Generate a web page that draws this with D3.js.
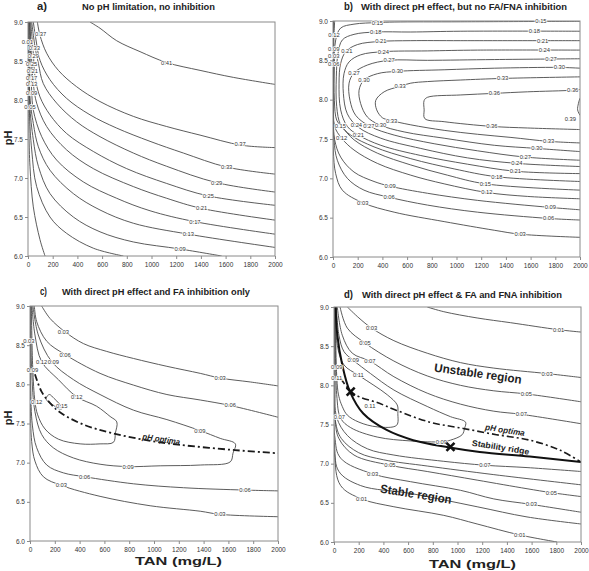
<!DOCTYPE html>
<html><head><meta charset="utf-8">
<script src="https://cdn.jsdelivr.net/npm/d3@7"></script>
<style>body{margin:0;background:#fff}svg{display:block}</style>
</head><body>
<svg id="chart" width="589" height="571"></svg>
<script>
// ---------- DATA ----------
const xTicks = [0,200,400,600,800,1000,1200,1400,1600,1800,2000];
const yTicks = [6.0,6.5,7.0,7.5,8.0,8.5,9.0];

const titleA = "No pH limitation, no inhibition";
const titleB = "With direct pH effect, but no FA/FNA inhibition";
const titleC = "With direct pH effect and FA inhibition only";
const titleD = "With direct pH effect & FA and FNA inhibition";

// contour lines: [TAN (mg/L), pH]
const contoursA = [
 {level:0.41, pts:[[502,9.0],[583,8.92],[718,8.76],[907,8.62],[1123,8.48],[1393,8.38],[1663,8.29],[2000,8.20]]},
 {level:0.37, pts:[[76,9.0],[97,8.83],[151,8.60],[246,8.38],[394,8.17],[583,7.98],[853,7.79],[1123,7.66],[1393,7.55],[1730,7.42],[2000,7.39]]},
 {level:0.33, pts:[[43,9.0],[65,8.77],[97,8.51],[178,8.26],[313,8.02],[502,7.81],[718,7.64],[988,7.47],[1258,7.32],[1609,7.14],[2000,7.05]]},
 {level:0.29, pts:[[30,9.0],[57,8.68],[84,8.47],[124,8.21],[232,7.96],[394,7.72],[583,7.53],[853,7.32],[1123,7.15],[1528,6.94],[2000,6.82]]},
 {level:0.25, pts:[[22,9.0],[43,8.60],[57,8.30],[97,8.04],[178,7.81],[313,7.57],[529,7.34],[799,7.12],[1123,6.93],[1460,6.77],[2000,6.65]]},
 {level:0.21, pts:[[16,9.0],[30,8.51],[43,8.21],[70,7.96],[151,7.66],[313,7.36],[529,7.12],[853,6.89],[1123,6.74],[1406,6.61],[2000,6.46]]},
 {level:0.17, pts:[[13.5,9.0],[24,8.43],[30,8.11],[43,7.87],[111,7.53],[232,7.23],[448,6.95],[718,6.74],[988,6.58],[1352,6.44],[2000,6.28]]},
 {level:0.13, pts:[[10.8,9.0],[16,8.04],[43,7.70],[84,7.40],[178,7.10],[367,6.80],[583,6.59],[853,6.42],[1298,6.28],[2000,6.11]]},
 {level:0.09, pts:[[8,9.0],[13.5,7.96],[43,7.49],[84,7.15],[178,6.80],[367,6.50],[583,6.31],[853,6.18],[1231,6.09],[1568,6.0]]},
 {level:0.05, pts:[[5.4,9.0],[10.8,7.87],[30,7.36],[70,6.89],[178,6.50],[313,6.29],[529,6.10],[772,6.0]]},
 {level:0.01, pts:[[4,9.0],[8,7.57],[16,7.15],[43,6.63],[97,6.21],[138,6.0]]}
];
const labelsA = [["0.41",1123,8.48],["0.37",1717,7.43],["0.37",102,8.85],["0.33",1609,7.14],["0.33",51,8.67],
 ["0.29",1528,6.94],["0.29",43,8.56],["0.25",1460,6.77],["0.25",30,8.46],["0.21",1406,6.61],["0.21",35,8.37],
 ["0.17",1352,6.44],["0.17",30,8.28],["0.13",1298,6.28],["0.13",30,8.20],["0.09",1231,6.09],["0.09",30,8.09],
 ["0.05",16,7.91],["0.01",-5,8.74]];

const contoursB = [
 {level:0.39, pts:[[2000,8.02],[1987,7.95],[1981,7.87],[2000,7.80]]},
 {level:0.36, pts:[[2000,8.13],[1941,8.12],[1576,8.10],[1306,8.08],[1035,8.06],[765,8.03],[738,7.99],[738,7.87],[743,7.76],[900,7.72],[1287,7.66],[1576,7.64],[2000,7.62]]},
 {level:0.33, pts:[[2000,8.29],[1373,8.27],[1035,8.25],[765,8.23],[630,8.21],[543,8.17],[414,8.10],[346,7.99],[354,7.87],[400,7.77],[457,7.74],[630,7.68],[900,7.61],[1170,7.56],[1441,7.52],[1746,7.47],[2000,7.45]]},
 {level:0.30, pts:[[2000,8.40],[1833,8.41],[1306,8.40],[900,8.38],[522,8.36],[359,8.33],[251,8.25],[211,8.12],[224,7.95],[278,7.78],[376,7.68],[576,7.59],[900,7.51],[1306,7.42],[1651,7.38],[2000,7.34]]},
 {level:0.27, pts:[[2000,8.52],[1306,8.51],[765,8.50],[454,8.50],[278,8.44],[170,8.34],[130,8.21],[138,7.99],[184,7.80],[300,7.66],[495,7.55],[819,7.44],[1170,7.35],[1557,7.27],[2000,7.23]]},
 {level:0.24, pts:[[2000,8.63],[1170,8.63],[765,8.62],[408,8.61],[224,8.57],[130,8.48],[89,8.33],[84,8.08],[116,7.82],[205,7.65],[387,7.51],[711,7.38],[1089,7.26],[1489,7.19],[2000,7.15]]},
 {level:0.21, pts:[[2000,8.75],[1035,8.75],[630,8.75],[381,8.74],[197,8.70],[103,8.61],[62,8.46],[49,8.21],[62,7.87],[116,7.66],[205,7.55],[387,7.42],[711,7.29],[1089,7.18],[1476,7.09],[2000,7.06]]},
 {level:0.18, pts:[[2000,8.87],[1035,8.87],[630,8.86],[346,8.86],[170,8.83],[76,8.76],[41,8.59],[27,8.29],[30,7.91],[62,7.68],[143,7.55],[332,7.40],[630,7.25],[981,7.12],[1327,7.02],[2000,6.96]]},
 {level:0.15, pts:[[2000,8.996],[1035,8.99],[495,8.987],[359,8.98],[170,8.96],[62,8.91],[22,8.76],[11,8.42],[11,7.99],[30,7.74],[70,7.66],[170,7.49],[359,7.32],[630,7.17],[927,7.04],[1233,6.93],[2000,6.85]]},
 {level:0.12, pts:[[13.5,9.0],[8,8.82],[5.4,8.42],[5.4,7.99],[13.5,7.66],[70,7.51],[170,7.36],[359,7.19],[630,7.04],[900,6.93],[1246,6.82],[1576,6.77],[2000,6.74]]},
 {level:0.09, pts:[[5.4,9.0],[2.7,8.42],[2.7,7.78],[13.5,7.49],[62,7.27],[170,7.08],[332,6.96],[462,6.90],[765,6.81],[1170,6.72],[1760,6.63],[2000,6.60]]},
 {level:0.06, pts:[[4,9.0],[2.7,7.99],[8,7.49],[35,7.23],[116,7.00],[251,6.85],[454,6.76],[765,6.66],[1170,6.57],[1746,6.49],[2000,6.47]]},
 {level:0.03, pts:[[2.7,9.0],[1.4,7.78],[2.7,7.36],[21.6,7.06],[75.7,6.85],[241,6.69],[495,6.57],[900,6.45],[1306,6.34],[1516,6.29],[2000,6.25]]}
];
const labelsB = [["0.15",359,8.98],["0.15",1684,8.995],["0.18",346,8.86],["0.18",1630,8.87],["0.21",387,8.74],["0.21",1697,8.75],
 ["0.24",408,8.61],["0.24",1711,8.63],["0.27",454,8.50],["0.27",1765,8.52],["0.30",522,8.36],["0.30",1833,8.41],
 ["0.33",1373,8.27],["0.33",543,8.17],["0.36",1306,8.08],["0.36",1941,8.12],["0.39",1922,7.75],["0.36",1287,7.66],
 ["0.33",1746,7.47],["0.30",1651,7.38],["0.27",1557,7.27],["0.24",1489,7.19],["0.21",1476,7.09],["0.18",1327,7.02],
 ["0.15",1233,6.93],["0.12",1246,6.82],["0.09",1760,6.63],["0.06",1746,6.49],["0.03",1516,6.29],["0.12",8,8.82],
 ["0.21",112,8.62],["0.27",170,8.34],["0.30",251,8.25],["0.09",6,8.65],["0.03",6,8.55],["0.06",6,8.45],
 ["0.15",60,7.67],["0.24",190,7.68],["0.27",290,7.67],["0.30",385,7.68],["0.33",475,7.735],["0.21",205,7.55],
 ["0.12",70,7.51],["0.09",462,6.90],["0.06",454,6.76],["0.03",241,6.69]];

const contoursC = [
 {level:0.03, pts:[[94,9.0],[162,8.84],[283,8.67],[431,8.52],[619,8.42],[835,8.33],[1104,8.23],[1373,8.14],[1534,8.08],[1777,8.03],[2000,7.98]]},
 {level:0.06, pts:[[35,9.0],[54,8.80],[135,8.55],[283,8.38],[565,8.14],[835,7.99],[1104,7.87],[1373,7.80],[1615,7.73],[2000,7.58]]},
 {level:0.09, pts:[[24,9.0],[67,8.63],[175,8.29],[350,8.06],[565,7.87],[835,7.67],[1104,7.55],[1370,7.41],[1534,7.31],[1656,7.24],[1637,7.12],[1615,7.01],[1373,6.97],[1050,6.96],[791,6.95],[565,6.98],[350,7.06],[188,7.19],[94,7.36],[40,7.65],[13.5,8.18],[5.4,9.0]]},
 {level:0.12, pts:[[16,9.0],[40,8.63],[94,8.29],[229,8.06],[377,7.84],[538,7.72],[646,7.59],[700,7.52],[689,7.38],[673,7.26],[565,7.24],[404,7.24],[229,7.30],[121,7.43],[62,7.61],[40,7.78],[22,8.21],[11,9.0]]},
 {level:0.15, closed:true, pts:[[129,7.82],[156,7.87],[194,7.82],[237,7.75],[258,7.69],[229,7.69],[183,7.74],[145,7.78]]},
 {level:0.06, pts:[[2.7,9.0],[5.4,7.99],[19,7.48],[54,7.19],[135,6.97],[269,6.87],[441,6.82],[835,6.73],[1238,6.68],[1734,6.65],[2000,6.64]]},
 {level:0.03, pts:[[1.3,9.0],[2.7,7.78],[13.5,7.27],[40,7.02],[108,6.82],[253,6.71],[565,6.57],[969,6.45],[1373,6.38],[1532,6.34],[2000,6.31]]}
];
const labelsC = [["0.03",269,8.67],["0.03",1534,8.08],["0.06",283,8.38],["0.06",1615,7.73],["0.12",377,7.84],["0.12",54,7.77],
 ["0.12",94,8.29],["0.09",188,8.29],["0.09",20,8.18],["0.15",256,7.72],["0.09",1370,7.41],["0.09",791,6.95],
 ["0.06",441,6.82],["0.06",1734,6.65],["0.03",253,6.71],["0.03",1532,6.34],["0.03",-10,8.55]];
const optimaC = [[40,8.13],[92,7.91],[162,7.76],[253,7.63],[441,7.48],[657,7.38],[926,7.29],[1195,7.23],[1653,7.16],[2000,7.12]];

const contoursD = [
 {level:0.01, pts:[[755,9.0],[889,8.94],[1159,8.86],[1428,8.80],[1819,8.71],[2000,8.68]]},
 {level:0.03, pts:[[108,9.0],[202,8.86],[305,8.73],[485,8.57],[755,8.41],[1024,8.29],[1294,8.22],[1725,8.15],[2000,8.10]]},
 {level:0.05, pts:[[49,9.0],[108,8.73],[251,8.54],[485,8.31],[755,8.12],[1024,8.00],[1294,7.93],[1558,7.89],[2000,7.79]]},
 {level:0.07, pts:[[27,9.0],[67,8.64],[148,8.41],[291,8.31],[485,8.11],[755,7.90],[1024,7.76],[1294,7.67],[1517,7.63],[2000,7.51]]},
 {level:0.09, pts:[[19,9.0],[40,8.64],[81,8.43],[156,8.32],[296,8.15],[485,7.94],[755,7.73],[943,7.60],[1065,7.53],[1057,7.45],[1038,7.37],[943,7.30],[870,7.28],[620,7.29],[350,7.34],[135,7.46],[54,7.58],[22,7.88],[11,9.0]]},
 {level:0.11, pts:[[16,9.0],[27,8.51],[81,8.26],[197,8.13],[323,8.00],[431,7.88],[512,7.75],[517,7.64],[507,7.49],[350,7.47],[202,7.53],[108,7.62],[67,7.73],[32,7.92],[13.5,9.0]]},
 {level:0.07, pts:[[8,9.0],[8,8.00],[22,7.59],[108,7.36],[270,7.19],[485,7.11],[889,7.03],[1221,6.98],[1563,6.95],[2000,6.90]]},
 {level:0.06, pts:[[6.7,9.0],[11,7.55],[60,7.32],[200,7.14],[400,7.05],[755,6.97],[1294,6.86],[2000,6.73]]},
 {level:0.05, pts:[[5.4,9.0],[8,7.58],[40,7.32],[162,7.11],[453,6.98],[755,6.90],[1159,6.79],[1563,6.68],[1760,6.63],[2000,6.58]]},
 {level:0.03, pts:[[2.7,9.0],[5.4,7.36],[54,7.07],[313,6.87],[620,6.77],[1024,6.66],[1294,6.55],[1598,6.48],[2000,6.38]]},
 {level:0.02, pts:[[2.2,9.0],[4,7.24],[40,6.90],[216,6.72],[620,6.62],[1159,6.45],[1563,6.32],[2000,6.23]]},
 {level:0.01, pts:[[1.3,9.0],[2.7,7.15],[54,6.72],[224,6.55],[485,6.45],[889,6.34],[1159,6.23],[1504,6.09],[1806,6.0]]}
];
const labelsD = [["0.01",1819,8.71],["0.03",305,8.73],["0.03",1725,8.15],["0.05",251,8.54],["0.05",1558,7.89],["0.07",291,8.31],
 ["0.07",1517,7.63],["0.09",156,8.32],["0.11",197,8.13],["0.09",22,8.24],["0.11",22,8.10],["0.11",291,7.73],["0.07",43,7.59],
 ["0.09",870,7.28],["0.07",1221,6.98],["0.05",453,6.98],["0.05",1760,6.63],["0.03",313,6.87],["0.03",1598,6.48],
 ["0.01",224,6.55],["0.01",1504,6.09]];
const ridgeD = [[13.5,9.0],[27,8.64],[67,8.26],[129,7.92],[237,7.64],[426,7.43],[641,7.30],[924,7.21],[1180,7.15],[1585,7.09],[2000,7.02]];
const optimaD = [[54,8.09],[135,7.92],[210,7.85],[350,7.78],[507,7.68],[776,7.53],[1046,7.45],[1315,7.37],[1585,7.30],[1833,7.17],[2000,7.02]];
const markersD = [[135,7.92],[943,7.215]];

// ---------- DRAW ----------
const svg = d3.select('#chart');
const FONT = "'Liberation Sans', Arial, sans-serif";

const panels = [
 {key:'a', x:28, y:22, w:247, h:234, contours:contoursA, labels:labelsA, letter:'a)', lx:37, lw:10, title:titleA, tx:82, tw:133, ty:10, yTitle:138, xTitle:null},
 {key:'b', x:333, y:21, w:247, h:236, contours:contoursB, labels:labelsB, letter:'b)', lx:344, lw:9, title:titleB, tx:361, tw:206, ty:10, yTitle:null, xTitle:null},
 {key:'c', x:30, y:306, w:248, h:235, contours:contoursC, labels:labelsC, letter:'c)', lx:40, lw:7, title:titleC, tx:62, tw:188, ty:295, yTitle:418, xTitle:{x:135, w:87, y:565}},
 {key:'d', x:334, y:307, w:247, h:235, contours:contoursD, labels:labelsD, letter:'d)', lx:344, lw:9, title:titleD, tx:362, tw:200, ty:297.5, yTitle:null, xTitle:{x:429, w:87, y:568}}
];

const defs = svg.append('defs');

panels.forEach(p => {
  const x = d3.scaleLinear().domain([0,2000]).range([0,p.w]);
  const y = d3.scaleLinear().domain([6,9]).range([p.h,0]);
  p.xs = x; p.ys = y;
  defs.append('clipPath').attr('id','clip-'+p.key).append('rect').attr('width',p.w).attr('height',p.h);
  const g = svg.append('g').attr('transform',`translate(${p.x},${p.y})`);
  p.g = g;

  svg.append('text').attr('x',p.lx).attr('y',p.ty).attr('font-family',FONT).attr('font-weight','bold')
    .attr('font-size',10).attr('textLength',p.lw).attr('lengthAdjust','spacingAndGlyphs').attr('fill','#222').text(p.letter);
  svg.append('text').attr('x',p.tx).attr('y',p.ty).attr('font-family',FONT).attr('font-weight','bold')
    .attr('font-size',9).attr('textLength',p.tw).attr('lengthAdjust','spacingAndGlyphs').attr('fill','#222').text(p.title);

  const cg = g.append('g').attr('clip-path',`url(#clip-${p.key})`);
  const line = d3.line().x(d=>x(d[0])).y(d=>y(d[1])).curve(d3.curveCatmullRom.alpha(0.5));
  const lineClosed = d3.line().x(d=>x(d[0])).y(d=>y(d[1])).curve(d3.curveCatmullRomClosed.alpha(0.5));
  cg.selectAll('path.contour').data(p.contours).join('path').attr('class','contour')
    .attr('d',d=>(d.closed?lineClosed:line)(d.pts))
    .attr('fill','none').attr('stroke','#4a4a4a').attr('stroke-width',0.9);
  p.cg = cg; p.line = line;

  g.append('rect').attr('width',p.w).attr('height',p.h).attr('fill','none').attr('stroke','#8a8a8a').attr('stroke-width',1);

  const xa = g.append('g').attr('transform',`translate(0,${p.h})`)
    .call(d3.axisBottom(x).tickValues(xTicks).tickSize(3).tickPadding(3).tickFormat(d3.format('d')));
  const ya = g.append('g').call(d3.axisLeft(y).tickValues(yTicks).tickSize(3).tickPadding(2).tickFormat(d3.format('.1f')));
  [xa,ya].forEach(a=>{
    a.select('.domain').remove();
    a.selectAll('line').attr('stroke','#8a8a8a');
    a.selectAll('text').attr('font-family',FONT).attr('font-size',6.5).attr('fill','#333');
  });

  if (p.yTitle) {
    svg.append('text').attr('transform',`translate(12,${p.yTitle}) rotate(-90)`).attr('text-anchor','middle')
      .attr('font-family',FONT).attr('font-weight','bold').attr('font-size',11).attr('fill','#222').text('pH');
  }
  if (p.xTitle) {
    svg.append('text').attr('x',p.xTitle.x).attr('y',p.xTitle.y).attr('font-family',FONT).attr('font-weight','bold')
      .attr('font-size',11.5).attr('textLength',p.xTitle.w).attr('lengthAdjust','spacingAndGlyphs').attr('fill','#222').text('TAN (mg/L)');
  }
});

const pc = panels[2], pd = panels[3];
pc.cg.append('path').attr('d',pc.line(optimaC)).attr('fill','none').attr('stroke','#1a1a1a')
  .attr('stroke-width',1.8).attr('stroke-dasharray','7,3,2,3');
pd.cg.append('path').attr('d',pd.line(optimaD)).attr('fill','none').attr('stroke','#1a1a1a')
  .attr('stroke-width',1.6).attr('stroke-dasharray','7,3,2,3');
pd.cg.append('path').attr('d',pd.line(ridgeD)).attr('fill','none').attr('stroke','#111').attr('stroke-width',2);

panels.forEach(p => {
  p.g.append('g').selectAll('text').data(p.labels).join('text')
    .attr('x',d=>p.xs(d[1])).attr('y',d=>p.ys(d[2]))
    .attr('text-anchor','middle').attr('dominant-baseline','central')
    .attr('font-family',FONT).attr('font-size',5.8).attr('fill','#333')
    .attr('stroke','#fff').attr('stroke-width',1.6).attr('paint-order','stroke')
    .text(d=>d[0]);
});

pd.g.selectAll('path.mk').data(markersD).join('path').attr('class','mk')
  .attr('d',d=>{const cx=pd.xs(d[0]), cy=pd.ys(d[1]), s=4;
     return `M${cx-s},${cy-s}L${cx+s},${cy+s}M${cx-s},${cy+s}L${cx+s},${cy-s}`;})
  .attr('stroke','#111').attr('stroke-width',2.6);

function note(p, txt, tan, ph, ang, size, len, italic){
  p.g.append('text').attr('transform',`translate(${p.xs(tan)},${p.ys(ph)}) rotate(${ang})`)
    .attr('text-anchor','middle').attr('dominant-baseline','central')
    .attr('font-family',FONT).attr('font-weight','bold').attr('font-style',italic?'italic':'normal')
    .attr('font-size',size).attr('textLength',len).attr('lengthAdjust','spacingAndGlyphs').attr('fill','#222').text(txt);
}
note(pd,'Unstable region',1166,8.15,8,12,88,false);
note(pd,'Stable region',664,6.61,9,12,72,false);
note(pd,'pH optima',1385,7.43,9,8.5,40,true);
note(pd,'Stability ridge',1350,7.21,9,8.5,58,false);
note(pc,'pH optima',1059,7.30,9,8.5,38,true);
</script>
</body></html>
